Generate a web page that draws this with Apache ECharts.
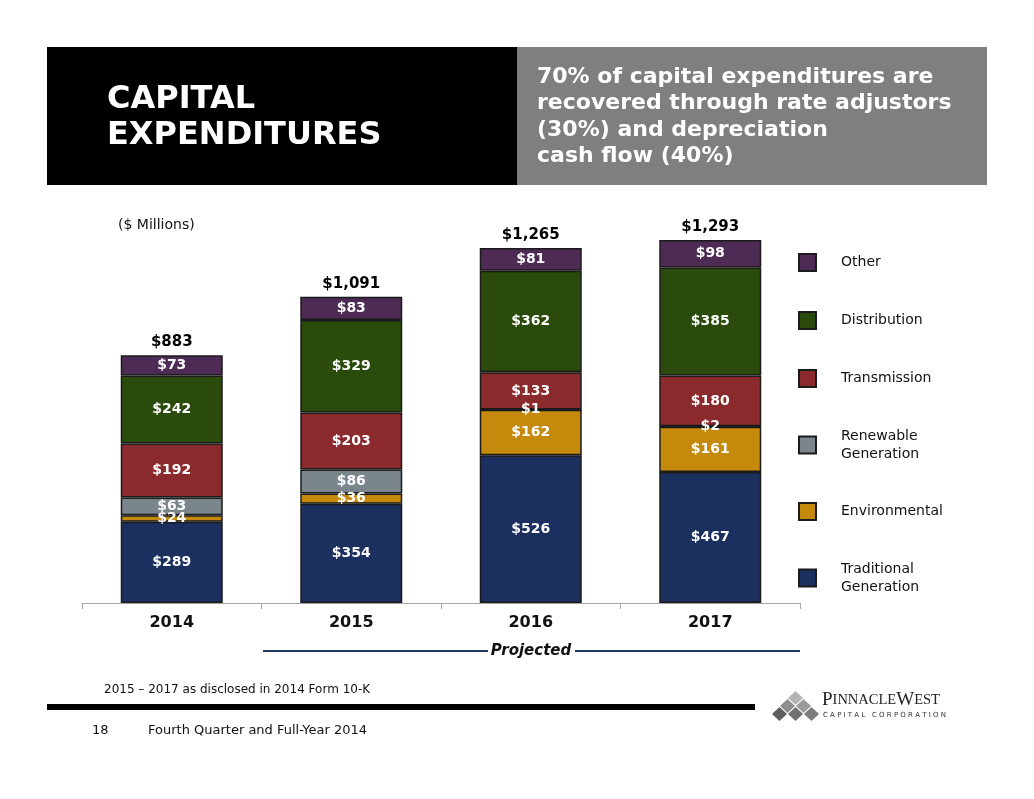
<!DOCTYPE html>
<html>
<head>
<meta charset="utf-8">
<script src="https://cdn.jsdelivr.net/npm/echarts@6/dist/echarts.min.js"></script>
<style>
  html, body { margin: 0; padding: 0; background: #fff; }
  #chart { width: 1034px; height: 799px; }
</style>
</head>
<body>
<div id="chart"></div>
<script>
// values in $ millions
const years = ['2014', '2015', '2016', '2017'];
const traditional = [289, 354, 526, 467];
const environmental = [24, 36, 162, 161];
const renewable = [63, 86, 1, 2];
const transmission = [192, 203, 133, 180];
const distribution = [242, 329, 362, 385];
const other = [73, 83, 81, 98];
const totals = years.map((y, i) =>
  traditional[i] + environmental[i] + renewable[i] + transmission[i] + distribution[i] + other[i]);

const FONT = '"DejaVu Sans", Verdana, sans-serif';

function money(v) {
  return '$' + v.toLocaleString('en-US');
}

function seg(name, data, color) {
  return {
    name: name,
    type: 'bar',
    stack: 'capex',
    barWidth: 102,
    data: data,
    itemStyle: { color: color, borderColor: '#1b1b1b', borderWidth: 1.5 },
    label: {
      show: true,
      position: 'inside',
      formatter: p => money(p.value),
      color: '#fff',
      fontFamily: FONT,
      fontWeight: 'bold',
      fontSize: 14
    }
  };
}

const chart = echarts.init(document.getElementById('chart'));
chart.setOption({
  animation: false,
  grid: { left: 82, right: 234, top: 210, bottom: 196 },
  legend: {
    orient: 'vertical',
    left: 798,
    top: 253,
    padding: 0,
    itemWidth: 17,
    itemHeight: 17,
    itemGap: 39,
    icon: 'rect',
    selectedMode: false,
    data: ['Other', 'Distribution', 'Transmission', 'Renewable\nGeneration', 'Environmental', 'Traditional\nGeneration'],
    textStyle: { fontFamily: FONT, fontSize: 14, color: '#111', lineHeight: 18, padding: [0, 0, 0, 20] }
  },
  xAxis: {
    type: 'category',
    data: years,
    axisLine: { lineStyle: { color: '#a6a6a6', width: 1 } },
    axisTick: { show: true, length: 6, lineStyle: { color: '#a6a6a6' } },
    axisLabel: { color: '#111', fontFamily: FONT, fontWeight: 'bold', fontSize: 16, margin: 12 }
  },
  yAxis: { type: 'value', min: 0, max: 1400, show: false },
  series: [
    seg('Traditional\nGeneration', traditional, '#1b305f'),
    seg('Environmental', environmental, '#c58a0b'),
    seg('Renewable\nGeneration', renewable, '#7b858c'),
    seg('Transmission', transmission, '#8a2a2d'),
    seg('Distribution', distribution, '#2a4b0b'),
    seg('Other', other, '#4d2b55'),
    {
      name: 'Total',
      type: 'scatter',
      data: totals,
      symbolSize: 1,
      itemStyle: { color: 'rgba(0,0,0,0)', opacity: 1 },
      label: {
        show: true,
        position: 'top',
        distance: 5,
        formatter: p => money(p.value),
        color: '#000',
        opacity: 1,
        fontFamily: FONT,
        fontWeight: 'bold',
        fontSize: 15
      },
      z: 5
    }
  ],
  graphic: [
    // header blocks
    { type: 'rect', left: 47, top: 47, shape: { width: 470, height: 138 }, style: { fill: '#000' } },
    { type: 'rect', left: 517, top: 47, shape: { width: 470, height: 138 }, style: { fill: '#7f7f7f' } },
    {
      type: 'text', left: 107, top: 82,
      style: { text: 'CAPITAL\nEXPENDITURES', fill: '#fff', font: 'bold 32px ' + FONT, lineHeight: 36 }
    },
    {
      type: 'text', left: 537, top: 64,
      style: {
        text: '70% of capital expenditures are\nrecovered through rate adjustors\n(30%) and depreciation\ncash flow (40%)',
        fill: '#fff', font: 'bold 22px ' + FONT, lineHeight: 26.5
      }
    },
    { type: 'text', left: 118, top: 218, style: { text: '($ Millions)', fill: '#111', font: '14px ' + FONT } },
    // projected bracket
    { type: 'line', shape: { x1: 263, y1: 651, x2: 488, y2: 651 }, style: { stroke: '#1f3864', lineWidth: 2 } },
    { type: 'line', shape: { x1: 575, y1: 651, x2: 800, y2: 651 }, style: { stroke: '#1f3864', lineWidth: 2 } },
    {
      type: 'text', x: 531, y: 651,
      style: { text: 'Projected', fill: '#111', font: 'italic bold 15px ' + FONT, align: 'center', verticalAlign: 'middle' }
    },
    // footer
    { type: 'text', left: 104, top: 684, style: { text: '2015 \u2013 2017 as disclosed in 2014 Form 10-K', fill: '#111', font: '12px ' + FONT } },
    { type: 'rect', left: 47, top: 704, shape: { width: 708, height: 6 }, style: { fill: '#000' } },
    { type: 'text', left: 92, top: 724, style: { text: '18', fill: '#111', font: '13px ' + FONT } },
    { type: 'text', left: 148, top: 724, style: { text: 'Fourth Quarter and Full-Year 2014', fill: '#111', font: '13px ' + FONT } },
    // logo
    {
      type: 'group', left: 772, top: 691,
      children: [
        [20, 7], [12, 15], [28, 15], [4, 23], [20, 23], [36, 23]
      ].map(([cx, cy], k) => ({
        type: 'polygon',
        shape: { points: [[cx, cy - 7], [cx + 7.5, cy], [cx, cy + 7], [cx - 7.5, cy]] },
        style: { fill: ['#b5b5b5', '#8f8f8f', '#9a9a9a', '#5e5e5e', '#6f6f6f', '#7c7c7c'][k] }
      }))
    },
    {
      type: 'text', left: 822, top: 691,
      style: {
        text: '{b|P}{s|INNACLE}{b|W}{s|EST}',
        rich: {
          b: { font: '19px "Liberation Serif", serif', fill: '#222' },
          s: { font: '14.5px "Liberation Serif", serif', fill: '#222' }
        }
      }
    },
    {
      type: 'text', left: 823, top: 712,
      style: { text: 'C A P I T A L   C O R P O R A T I O N', fill: '#333', font: '7px ' + FONT }
    }
  ]
});
</script>
</body>
</html>
